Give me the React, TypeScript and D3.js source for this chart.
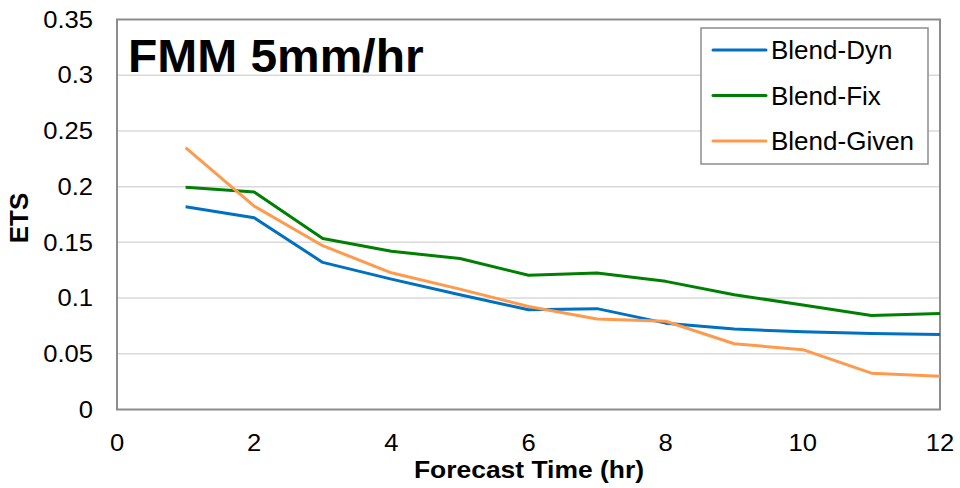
import React from "react";
import * as d3 from "d3";

const hours = [1, 2, 3, 4, 5, 6, 7, 8, 9, 10, 11, 12];
const blendDyn = [0.182, 0.172, 0.132, 0.117, 0.103, 0.0895, 0.0905, 0.0775, 0.0722, 0.0697, 0.0682, 0.0673];
const blendFix = [0.1995, 0.1952, 0.1535, 0.142, 0.1355, 0.1205, 0.1225, 0.115, 0.103, 0.0938, 0.0844, 0.0862];
const blendGiven = [0.235, 0.1825, 0.147, 0.1227, 0.108, 0.0925, 0.0812, 0.0792, 0.059, 0.0537, 0.0326, 0.0299];
const seriesNames = ["Blend-Dyn", "Blend-Fix", "Blend-Given"];
const seriesColors = ["#0070c0", "#008000", "#ff9a4d"];
const xTicks = [0, 2, 4, 6, 8, 10, 12];
const yTicks = [0, 0.05, 0.1, 0.15, 0.2, 0.25, 0.3, 0.35];

export default function App() {
  const W = 960, H = 488;
  const left = 117, right = 940, top = 19.5, bottom = 409.5;
  const x = d3.scaleLinear().domain([0, 12]).range([left, right]);
  const y = d3.scaleLinear().domain([0, 0.35]).range([bottom, top]);
  const line = d3.line<number>().x((_, i) => x(hours[i])).y((d) => y(d));
  const series = [blendDyn, blendFix, blendGiven];
  const font = "Arial, 'Liberation Sans', sans-serif";
  const tickSx = 1.09;
  return (
    <svg width={W} height={H} style={{ position: "absolute", left: 0, top: 0 }} fontFamily={font}>
      <rect x={0} y={0} width={W} height={H} fill="#fff" />
      {yTicks.map((t) => (
        <g key={t}>
          {t > 0 && t < 0.35 && (
            <line x1={left} x2={right} y1={y(t)} y2={y(t)} stroke="#d9d9d9" strokeWidth={1.5} />
          )}
          <text transform={`translate(93,${y(t)}) scale(${tickSx},1)`} dy="0.35em" textAnchor="end" fontSize={23.5} fill="#000">
            {d3.format("")(t)}
          </text>
        </g>
      ))}
      <rect x={left} y={top} width={right - left} height={bottom - top} fill="none" stroke="#8c8c8c" strokeWidth={2} />
      {xTicks.map((t) => (
        <text key={t} transform={`translate(${x(t)},442.5) scale(${tickSx},1)`} dy="0.35em" textAnchor="middle" fontSize={23.5} fill="#000">
          {t}
        </text>
      ))}
      {series.map((s, i) => (
        <path key={i} d={line(s) || ""} fill="none" stroke={seriesColors[i]} strokeWidth={3} strokeLinejoin="round" />
      ))}
      <text transform="translate(128,72) scale(1.02,1)" fontSize={47} fontWeight="bold" fill="#000">FMM 5mm/hr</text>
      <text transform="translate(529,478) scale(1.15,1)" textAnchor="middle" fontSize={23} fontWeight="bold" fill="#000">Forecast Time (hr)</text>
      <text transform="translate(28,218) rotate(-90)" textAnchor="middle" fontSize={26} fontWeight="bold" fill="#000">ETS</text>
      <rect x={701} y={28} width={227} height={136} fill="#fff" stroke="#8c8c8c" strokeWidth={1.5} />
      {seriesNames.map((n, i) => (
        <g key={n}>
          <line x1={713} x2={766} y1={50 + i * 45.5} y2={50 + i * 45.5} stroke={seriesColors[i]} strokeWidth={3} strokeLinecap="round" />
          <text x={771} y={50 + i * 45.5} dy="0.35em" fontSize={26} fill="#000">{n}</text>
        </g>
      ))}
    </svg>
  );
}
